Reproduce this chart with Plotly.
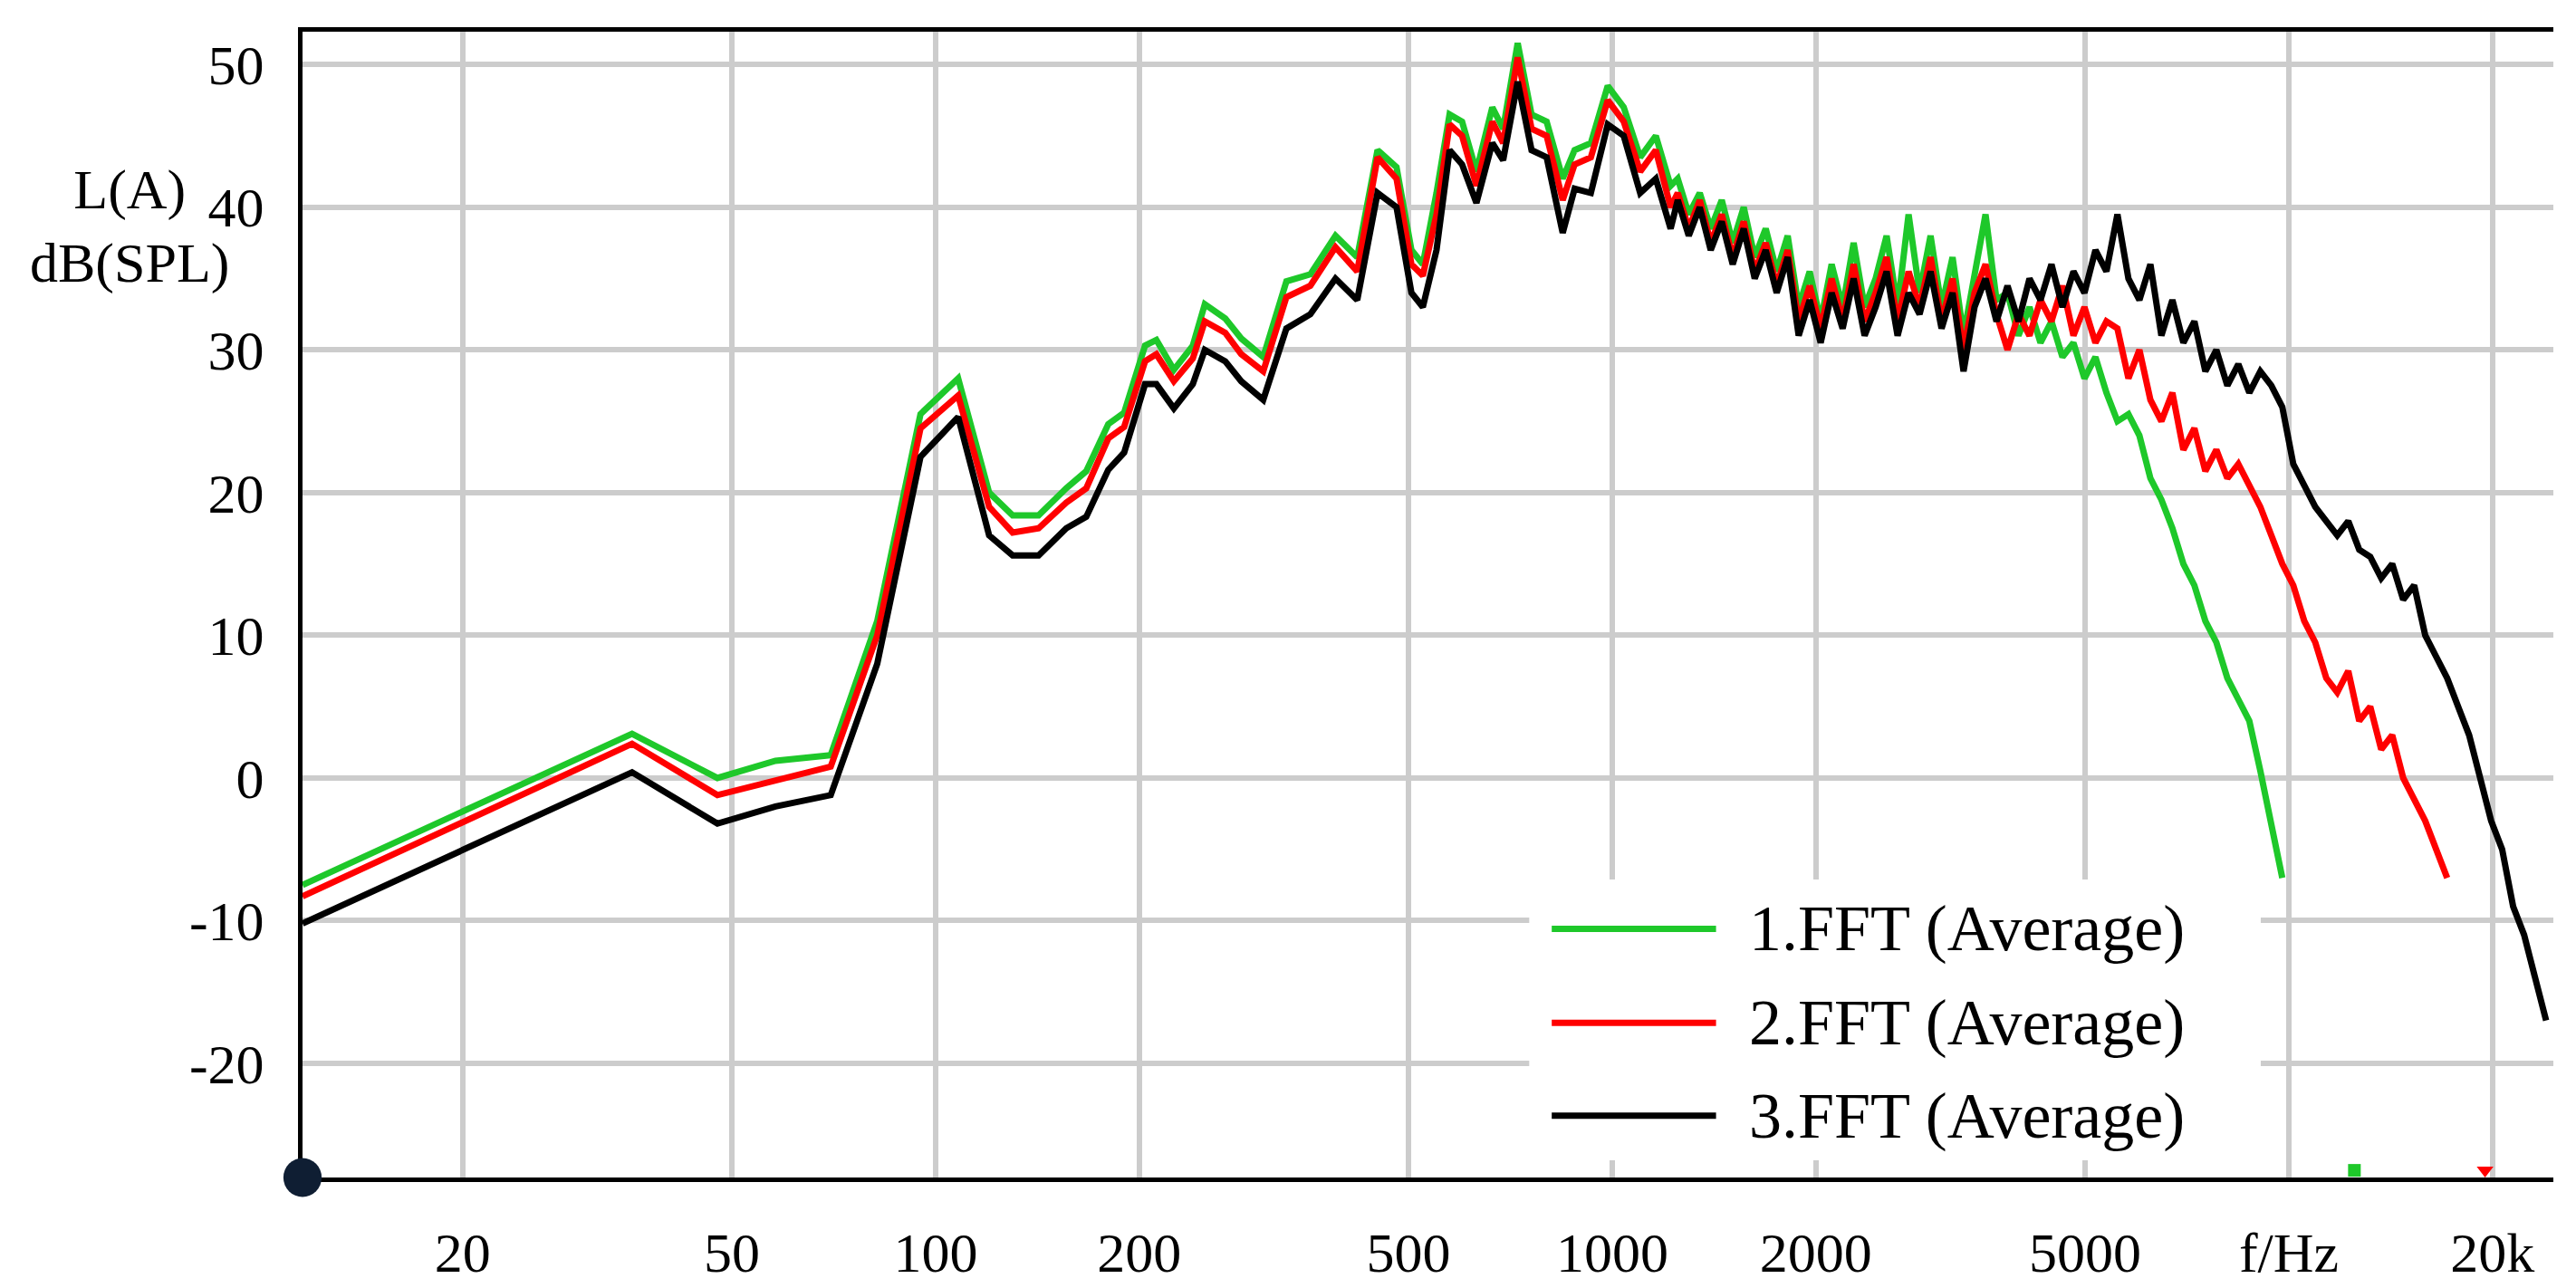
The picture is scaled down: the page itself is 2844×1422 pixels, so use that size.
import plotly.graph_objects as go
import numpy as np

# low band, shared by all three measurements (Hz)
freq_low = [11.6, 35.6, 47.6, 58, 70, 82, 95, 108, 120, 130, 142, 156, 167, 180, 190,
            204, 212, 225, 240, 250, 268, 283, 305, 330, 358, 390, 420, 450, 480, 505,
            525, 550, 575, 600, 630, 665, 690, 725, 760, 800, 845, 880, 930, 985, 1040,
            1100, 1160, 1220]
green_low = [-7.5, 3.1, 0, 1.2, 1.6, 11, 25.5, 28, 20, 18.4, 18.4, 20.3, 21.5, 24.8, 25.6,
             30.3, 30.7, 28.6, 30.3, 33.2, 32.2, 30.8, 29.5, 34.8, 35.3, 38, 36.5, 44, 42.8, 37,
             36, 41, 46.5, 46, 42.5, 47, 45.5, 51.5, 46.5, 46, 42, 44, 44.5, 48.5, 47,
             43.5, 45, 41.5]
red_low = [-8.3, 2.4, -1.2, -0.2, 0.8, 10, 24.5, 26.8, 19, 17.2, 17.5, 19.3, 20.3, 23.8, 24.6,
           29.2, 29.7, 27.8, 29.4, 32, 31.2, 29.7, 28.5, 33.7, 34.5, 37.2, 35.5, 43.5, 42, 36,
           35.2, 39.5, 45.8, 45, 41.5, 46, 44.5, 50.5, 45.5, 45, 40.5, 43, 43.5, 47.5, 46,
           42.5, 44, 40]
black_low = [-10.2, 0.4, -3.2, -2, -1.2, 8, 22.5, 25.3, 17, 15.6, 15.6, 17.5, 18.3, 21.6, 22.8,
             27.6, 27.6, 25.9, 27.6, 30, 29.2, 27.8, 26.5, 31.5, 32.5, 35, 33.5, 41, 40, 34,
             33, 37, 44, 43, 40.3, 44.5, 43.3, 48.8, 44, 43.5, 38.2, 41.3, 41, 45.8, 45,
             41, 42, 38.5]

# high band, log-spaced analysis bins from 1250 Hz to 24 kHz
freq_high = np.geomspace(1250, 24000, 80)
green_high = [42, 39.5, 41, 38.5, 40.5, 37.5, 40, 36.5, 38.5, 35.5,
              38, 33, 35.5, 32, 36, 33, 37.5, 33, 35, 38,
              33, 39.5, 34, 38, 33, 36.5, 31, 35, 39.5, 33.5,
              34, 31, 33, 30.5, 32, 29.5, 30.5, 28, 29.5, 27,
              25, 25.5, 24, 21, 19.5, 17.5, 15, 13.5, 11, 9.5,
              7, 5.5, 4, 0.5, -3, -7]
red_high = [41, 38.5, 40.5, 37.5, 39.5, 36.5, 39, 35.5, 37.5, 34.5,
            37, 32, 34.5, 31.5, 35, 32, 36, 32, 34, 36.5,
            32, 35.5, 33, 36.5, 32, 35, 30, 34, 36, 32.5,
            30, 32.5, 31, 33.5, 32, 34.5, 31, 33, 30.5, 32,
            31.5, 28, 30, 26.5, 25, 27, 23, 24.5, 21.5, 23,
            21, 22, 20.5, 19, 17, 15, 13.5, 11, 9.5, 7,
            6, 7.5, 4, 5, 2, 3, 0, -1.5, -3, -5, -7]
black_high = [40.5, 38, 40, 37, 39, 36, 38.5, 35, 37, 34,
              36.5, 31, 33.5, 30.5, 34, 31.5, 35, 31, 33, 35.5,
              31, 34, 32.5, 35.5, 31.5, 34, 28.5, 33, 35, 32,
              34.5, 32, 35, 33.5, 36, 33, 35.5, 34, 37, 35.5,
              39.5, 35, 33.5, 36, 31, 33.5, 30.5, 32, 28.5, 30,
              27.5, 29, 27, 28.5, 27.5, 26, 22, 20.5, 19, 18,
              17, 18, 16, 15.5, 14, 15, 12.5, 13.5, 10, 8.5,
              7, 5, 3, 0, -3, -5, -9, -11, -14, -17]

series = [("1.FFT (Average)", "#1ec82a", green_low, green_high),
          ("2.FFT (Average)", "#ff0000", red_low, red_high),
          ("3.FFT (Average)", "#000000", black_low, black_high)]

tick_vals = [20, 50, 100, 200, 500, 1000, 2000, 5000, 10000, 20000]
tick_text = ["20", "50", "100", "200", "500", "1000", "2000", "5000", "f/Hz", "20k"]
y_ticks = [-20, -10, 0, 10, 20, 30, 40, 50]
y_text = ["-20", "-10", "0", "10", "20", "30", "40", "50"]

FONT = "Liberation Serif"
fig = go.Figure()
for name, color, lo, hi in series:
    fx = list(freq_low) + list(freq_high[:len(hi)])
    fig.add_trace(go.Scatter(x=fx, y=lo + hi, mode="lines", name=name,
                             line=dict(color=color, width=7), showlegend=False))

# end markers on the frequency axis
fig.add_trace(go.Scatter(x=[12500], y=[-27.5], mode="markers", cliponaxis=False, showlegend=False,
                         marker=dict(size=14, symbol="square", color="#1ec82a")))
fig.add_trace(go.Scatter(x=[19500], y=[-27.5], mode="markers", cliponaxis=False, showlegend=False,
                         marker=dict(size=16, symbol="triangle-down", color="#ff0000")))

fig.update_xaxes(type="log", range=[np.log10(11.6), np.log10(24600)],
                 tickvals=tick_vals, ticktext=tick_text, showgrid=True,
                 gridcolor="#cccccc", gridwidth=6, showline=True, linecolor="black",
                 linewidth=5, mirror=True, ticks="", ticklabelstandoff=25,
                 tickfont=dict(family=FONT, size=62, color="black"), zeroline=False)
fig.update_yaxes(range=[-28, 52.3], tickvals=y_ticks, ticktext=y_text, showgrid=True,
                 gridcolor="#cccccc", gridwidth=6, showline=True, linecolor="black",
                 linewidth=5, ticks="", ticklabelstandoff=25, zeroline=False,
                 tickfont=dict(family=FONT, size=62, color="black"))

# legend drawn by hand so the line samples are long like the original
legend_y = [0.217, 0.135, 0.054]
shapes = [dict(type="rect", xref="paper", yref="paper", x0=0.545, x1=0.87, y0=0.015, y1=0.26,
               fillcolor="white", line=dict(width=0), layer="above")]
annotations = []
for (name, color, _, _), ly in zip(series, legend_y):
    shapes.append(dict(type="line", xref="paper", yref="paper", x0=0.555, x1=0.628,
                       y0=ly, y1=ly, line=dict(color=color, width=7), layer="above"))
    annotations.append(dict(x=0.642, y=ly, xref="paper", yref="paper", text=name,
                            showarrow=False, xanchor="left", yanchor="middle",
                            font=dict(family=FONT, size=72, color="black")))
annotations.append(dict(x=-0.077, y=0.83, xref="paper", yref="paper", text="L(A)<br>dB(SPL)",
                        showarrow=False, xanchor="center", yanchor="middle", align="center",
                        font=dict(family=FONT, size=62, color="black")))
# origin dot
shapes.append(dict(type="circle", xref="paper", yref="paper", x0=-0.0085, x1=0.0085,
                   y0=-0.017, y1=0.017, fillcolor="#0f1e33", line=dict(width=0), layer="above"))

fig.update_layout(width=2844, height=1422, plot_bgcolor="white", paper_bgcolor="white",
                  margin=dict(l=326, r=33, t=27, b=130), shapes=shapes,
                  annotations=annotations, showlegend=False)
fig.write_html("out.html")
